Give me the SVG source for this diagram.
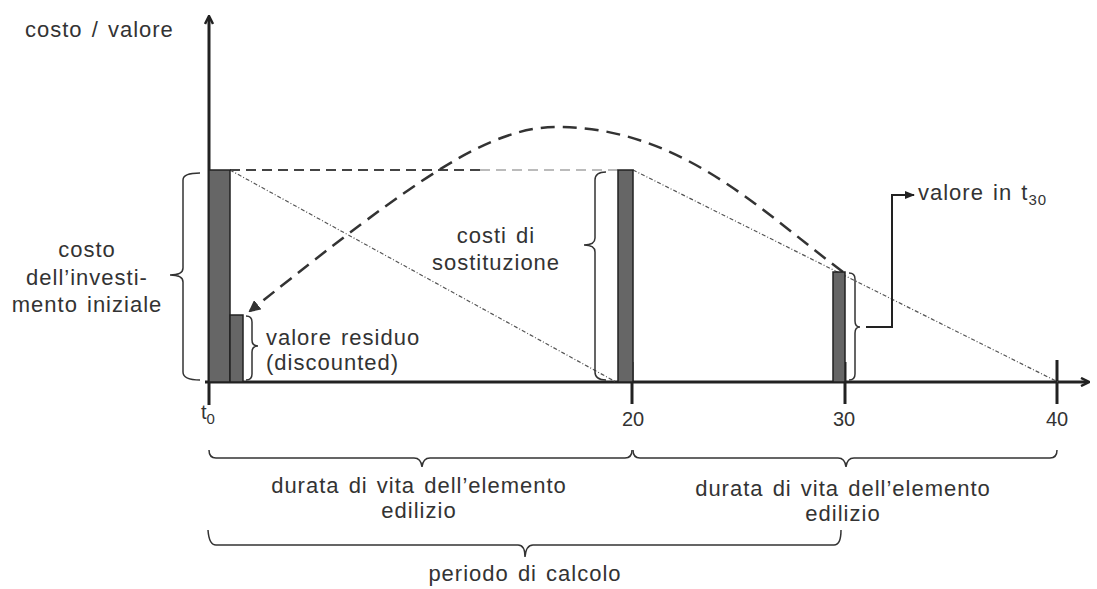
<svg xmlns="http://www.w3.org/2000/svg" width="1097" height="589" viewBox="0 0 1097 589">
<defs>
<style>
text{font-family:"Liberation Sans",Arial,sans-serif;font-size:22px;letter-spacing:1px;word-spacing:2px;fill:#333;}
.num{font-size:20px;letter-spacing:0;}
.ax{stroke:#222;stroke-width:3;fill:none;}
.bar{fill:#666;stroke:#222;stroke-width:1.5;}
.br{stroke:#333;stroke-width:1.5;fill:none;}
.dash{stroke:#444;stroke-width:2;stroke-dasharray:10 6;fill:none;}
.dashl{stroke:#bbb;stroke-width:2;stroke-dasharray:10 6;fill:none;}
.dot{stroke:#555;stroke-width:1.2;stroke-dasharray:4 2 1 2;fill:none;}
.big{stroke:#333;stroke-width:2.5;stroke-dasharray:14 8;fill:none;}
.tick{stroke:#222;stroke-width:3;}
</style>
<marker id="ah" markerWidth="10" markerHeight="10" refX="8" refY="5" orient="auto" markerUnits="userSpaceOnUse">
<path d="M1,1 L9,5 L1,9" fill="none" stroke="#222" stroke-width="2.5"/>
</marker>
<marker id="ah2" markerWidth="12" markerHeight="12" refX="10" refY="6" orient="auto" markerUnits="userSpaceOnUse">
<path d="M0,0 L12,6 L0,12 Z" fill="#333"/>
</marker>
<marker id="ah3" markerWidth="10" markerHeight="10" refX="9" refY="5" orient="auto" markerUnits="userSpaceOnUse">
<path d="M0,1 L10,5 L0,9 Z" fill="#222"/>
</marker>
</defs>
<g id="axes">
<line class="ax" x1="209" y1="405" x2="209" y2="17" marker-end="url(#ah)"/>
<line class="ax" x1="205" y1="382" x2="1088" y2="382" marker-end="url(#ah)"/>
<line class="tick" x1="632" y1="362" x2="632" y2="404"/>
<line class="tick" x1="845" y1="362" x2="845" y2="404"/>
<line class="tick" x1="1057" y1="360" x2="1057" y2="404"/>
<text x="25" y="37">costo / valore</text>
<text x="201" y="419" class="num">t<tspan font-size="15" dy="5">0</tspan></text>
<text x="633" y="426" class="num" text-anchor="middle">20</text>
<text x="844" y="426" class="num" text-anchor="middle">30</text>
<text x="1057" y="426" class="num" text-anchor="middle">40</text>
</g>
<g id="connectors">
<line class="dash" x1="230" y1="170" x2="480" y2="170"/>
<line class="dashl" x1="480" y1="170" x2="618" y2="170"/>
<line class="dot" x1="230" y1="170" x2="616" y2="382"/>
<line class="dot" x1="633" y1="170" x2="1058" y2="382"/>
<path class="big" d="M843 272 C760 210,680 127,557 127 C490 127,420 175,250 311" marker-end="url(#ah2)"/>
<path d="M866 327 H892 V195 H914" fill="none" stroke="#222" stroke-width="2" marker-end="url(#ah3)"/>
</g>
<g id="bar-t0">
<rect class="bar" x="209" y="170" width="21" height="212"/>
<path class="br" d="M200 173 Q183 173 183 180 V268 Q183 275 170 275 Q183 275 183 282 V372 Q183 380 200 380"/>
<text x="87" y="257" text-anchor="middle">costo</text>
<text x="87" y="285" text-anchor="middle">dell’investi-</text>
<text x="87" y="312" text-anchor="middle">mento iniziale</text>
</g>
<g id="bar-residuo">
<rect class="bar" x="230" y="315" width="13" height="67"/>
<path class="br" d="M246 316 Q252 316 252 322 V340 Q252 346 258 346 Q252 346 252 352 V374 Q252 380 246 380"/>
<text x="266" y="345">valore residuo</text>
<text x="266" y="370">(discounted)</text>
</g>
<g id="bar-t20">
<rect class="bar" x="618" y="170" width="15" height="212"/>
<path class="br" d="M606 172 Q595 172 595 180 V238 Q595 245 584 245 Q595 245 595 252 V372 Q595 380 606 380"/>
<text x="496" y="243" text-anchor="middle">costi di</text>
<text x="496" y="270" text-anchor="middle">sostituzione</text>
</g>
<g id="bar-t30">
<rect class="bar" x="833" y="272" width="12" height="110"/>
<path class="br" d="M849 273 Q855 273 855 279 V321 Q855 327 860 327 Q855 327 855 333 V374 Q855 380 849 380"/>
<text x="918" y="200">valore in t<tspan font-size="15" dy="5">30</tspan></text>
</g>
<g id="brace-life1">
<path class="br" d="M209 450 Q209 458 216 458 H414 Q421 458 422 467 Q423 458 430 458 H625 Q632 458 632 450"/>
<text x="419" y="493" text-anchor="middle">durata di vita dell’elemento</text>
<text x="419" y="518" text-anchor="middle">edilizio</text>
</g>
<g id="brace-life2">
<path class="br" d="M633 450 Q633 458 640 458 H838 Q845 458 846 467 Q847 458 854 458 H1050 Q1057 458 1057 450"/>
<text x="843" y="496" text-anchor="middle">durata di vita dell’elemento</text>
<text x="843" y="521" text-anchor="middle">edilizio</text>
</g>
<g id="brace-period">
<path class="br" d="M208 530 Q209 545 216 545 H518 Q525 545 525 557 Q526 545 533 545 H834 Q841 545 841 530"/>
<text x="525" y="581" text-anchor="middle">periodo di calcolo</text>
</g>
</svg>
